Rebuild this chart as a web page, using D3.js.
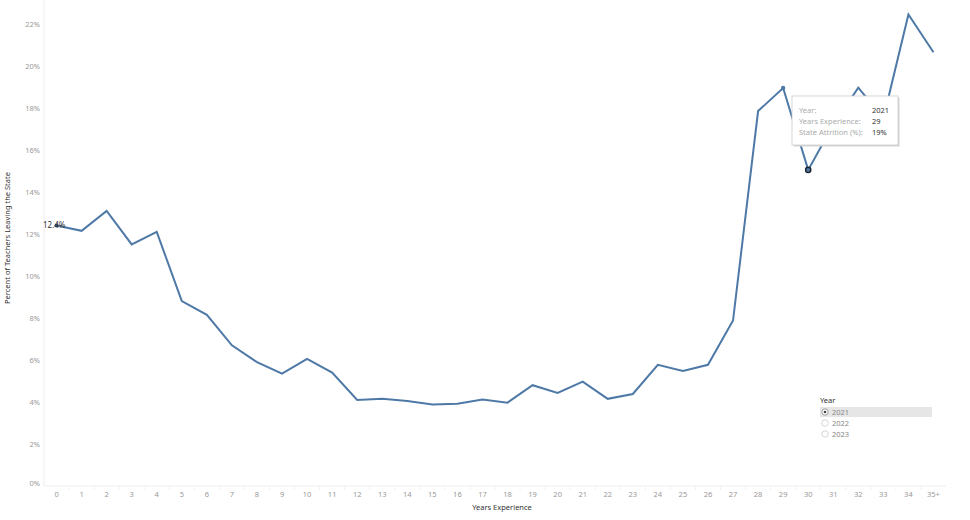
<!DOCTYPE html>
<meta charset="utf-8">
<script src="https://d3js.org/d3.v7.min.js"></script>
<style>
  body { margin: 0; background: #fff; }
  text { font-family: "Noto Sans", Lato, sans-serif; }
</style>
<div id="chart"></div>
<script>
// data
var years = ["0","1","2","3","4","5","6","7","8","9","10","11","12","13","14","15","16","17",
             "18","19","20","21","22","23","24","25","26","27","28","29","30","31","32","33","34","35+"];
var attrition = [12.4, 12.15, 13.1, 11.5, 12.1, 8.8, 8.15, 6.7, 5.9, 5.35, 6.05, 5.4, 4.1, 4.15, 4.05, 3.88,
                 3.92, 4.12, 3.97, 4.8, 4.43, 4.97, 4.15, 4.38, 5.77, 5.48, 5.77, 7.88, 17.85, 18.95, 15.05,
                 17.2, 18.97, 17.5, 22.45, 20.65];
var yTicks = [0, 2, 4, 6, 8, 10, 12, 14, 16, 18, 20, 22];
var legendYears = ["2021", "2022", "2023"];
var tipRows = [["Year:", "2021"], ["Years Experience:", "29"], ["State Attrition (%):", "19%"]];

var W = 970, H = 520;
var margin = {top: 0, right: 25, bottom: 34, left: 44};
var width = W - margin.left - margin.right,
    height = 486 - margin.top;

var svg = d3.select("#chart").append("svg")
    .attr("width", W).attr("height", H);
var g = svg.append("g").attr("transform", "translate(" + margin.left + "," + margin.top + ")");

var x = d3.scaleBand().domain(years).range([0, 902]);
var y = d3.scaleLinear().domain([0, 23.14]).range([height, 0]);

// y axis labels
g.selectAll(".ylab").data(yTicks).enter().append("text")
    .attr("x", -4)
    .attr("y", function(d) { return d === 0 ? y(d) - 3 : y(d); })
    .attr("dy", "0.35em")
    .attr("text-anchor", "end")
    .style("font-size", "7.5px")
    .style("fill", "#999")
    .text(function(d) { return d + "%"; });

// axis lines
g.append("line").attr("x1", 0).attr("x2", 0).attr("y1", 0).attr("y2", height)
    .style("stroke", "#eee");
g.append("line").attr("x1", 0).attr("x2", 902).attr("y1", height).attr("y2", height)
    .style("stroke", "#eee");

// x axis
var xAxis = g.append("g")
    .attr("transform", "translate(0," + height + ")")
    .call(d3.axisBottom(x).tickSize(0).tickPadding(6));
xAxis.select(".domain").remove();
xAxis.selectAll("text")
    .style("font-family", "'Noto Sans', Lato, sans-serif")
    .style("font-size", "7.5px")
    .style("fill", "#999");
g.selectAll(".sep").data(years.slice(1)).enter().append("line")
    .attr("x1", function(d) { return x(d); })
    .attr("x2", function(d) { return x(d); })
    .attr("y1", height).attr("y2", height + 4)
    .style("stroke", "#f0f0f0");

// axis titles
svg.append("text")
    .attr("x", 502).attr("y", 510)
    .attr("text-anchor", "middle")
    .style("font-size", "7.5px").style("fill", "#333")
    .text("Years Experience");
svg.append("text")
    .attr("transform", "translate(10,238) rotate(-90)")
    .attr("text-anchor", "middle")
    .style("font-size", "7.5px").style("fill", "#333")
    .text("Percent of Teachers Leaving the State");

// line
var cx = function(i) { return x(years[i]) + x.bandwidth() / 2; };
var line = d3.line()
    .x(function(d, i) { return cx(i); })
    .y(function(d) { return y(d); });
g.append("path")
    .datum(attrition)
    .attr("d", line)
    .style("fill", "none")
    .style("stroke", "#4e79a7")
    .style("stroke-width", 2)
    .style("stroke-linejoin", "miter");

// start label and marks
g.append("circle").attr("cx", cx(0)).attr("cy", y(attrition[0])).attr("r", 2)
    .style("fill", "#2f4b6e");
g.append("text")
    .attr("x", -1).attr("y", y(attrition[0]))
    .attr("dy", "0.35em")
    .style("font-size", "8px").style("fill", "#333")
    .text(attrition[0] + "%");
g.append("circle").attr("cx", cx(29)).attr("cy", y(attrition[29])).attr("r", 2.2)
    .style("fill", "#4e79a7");
g.append("circle").attr("cx", cx(30)).attr("cy", y(attrition[30])).attr("r", 2.6)
    .style("fill", "#4e79a7").style("stroke", "#1d2630").style("stroke-width", 1.4);

// tooltip
var tip = svg.append("g").attr("transform", "translate(792,96)");
tip.append("rect").attr("x", 1.5).attr("y", 1.5).attr("width", 106).attr("height", 49)
    .style("fill", "#d4d4d4");
tip.append("rect").attr("width", 106).attr("height", 49)
    .style("fill", "#fff").style("stroke", "#ccc").style("stroke-width", 0.8);
tipRows.forEach(function(r, i) {
    tip.append("text").attr("x", 7).attr("y", 14 + i * 11 + 3)
        .style("font-size", "7.5px").style("fill", "#aaa").text(r[0]);
    tip.append("text").attr("x", 80).attr("y", 14 + i * 11 + 3)
        .style("font-size", "7.5px").style("fill", "#333").text(r[1]);
});

// legend
var leg = svg.append("g").attr("transform", "translate(820,400)");
leg.append("text").attr("x", 0).attr("y", 3)
    .style("font-size", "7.5px").style("fill", "#333").text("Year");
leg.append("rect").attr("x", 0).attr("y", 7).attr("width", 112).attr("height", 10)
    .style("fill", "#e6e6e6");
legendYears.forEach(function(yr, i) {
    var cy = 12 + i * 11;
    leg.append("circle").attr("cx", 5).attr("cy", cy).attr("r", 3.2)
        .style("fill", "#fff").style("stroke", i === 0 ? "#888" : "#ccc").style("stroke-width", 0.8);
    if (i === 0) leg.append("circle").attr("cx", 5).attr("cy", cy).attr("r", 1.3).style("fill", "#444");
    leg.append("text").attr("x", 12).attr("y", cy).attr("dy", "0.35em")
        .style("font-size", "7.5px").style("fill", "#888").text(yr);
});
</script>
